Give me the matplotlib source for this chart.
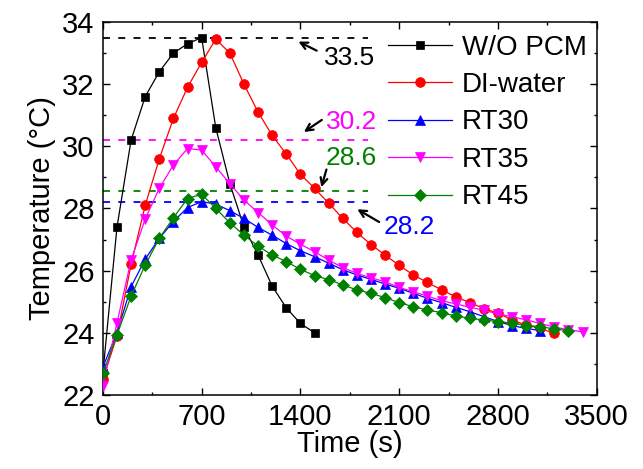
import matplotlib

matplotlib.use("Agg")
import matplotlib.pyplot as plt
from matplotlib.ticker import MultipleLocator

plt.rcParams["font.family"] = ["Liberation Sans", "DejaVu Sans"]
plt.rcParams["lines.scale_dashes"] = False

# 시간(s)과 온도(°C) 데이터
t_wo = [0, 100, 200, 300, 400, 500, 600, 700, 800, 900, 1000, 1100, 1200, 1300, 1400, 1500]
T_wo = [22.7, 27.4, 30.2, 31.6, 32.4, 33.0, 33.3, 33.5, 30.6, 28.8, 27.4, 26.5, 25.5, 24.8, 24.3, 24.0]

t_di = list(range(0, 3201, 100))
T_di = [22.5, 23.9, 26.2, 28.1, 29.6, 30.9, 31.9, 32.7, 33.45, 33.0, 32.0, 31.1, 30.35, 29.75,
        29.1, 28.65, 28.17, 27.68, 27.23, 26.84, 26.5, 26.17, 25.86, 25.62, 25.38, 25.16,
        24.97, 24.78, 24.63, 24.41, 24.25, 24.14, 23.98]

t_rt30 = list(range(0, 3101, 100))
T_rt30 = [22.9, 24.0, 25.48, 26.37, 27.04, 27.58, 28.03, 28.22, 28.14, 27.93, 27.68, 27.39,
          27.14, 26.87, 26.64, 26.45, 26.24, 26.03, 25.86, 25.72, 25.57, 25.43, 25.27, 25.11,
          24.97, 24.82, 24.68, 24.52, 24.36, 24.23, 24.14, 24.07]

t_rt35 = list(range(0, 3401, 100))
T_rt35 = [22.3, 24.32, 26.34, 27.66, 28.65, 29.4, 29.93, 29.88, 29.34, 28.8, 28.27, 27.87,
          27.47, 27.11, 26.85, 26.61, 26.34, 26.1, 25.91, 25.77, 25.64, 25.46, 25.32, 25.18,
          25.03, 24.93, 24.82, 24.73, 24.6, 24.52, 24.41, 24.3, 24.18, 24.1, 24.03]

t_rt45 = list(range(0, 3301, 100))
T_rt45 = [22.7, 23.93, 25.18, 26.18, 27.04, 27.7, 28.32, 28.46, 28.0, 27.54, 27.14, 26.79,
          26.5, 26.29, 26.04, 25.84, 25.71, 25.54, 25.38, 25.27, 25.13, 24.97, 24.84, 24.73,
          24.65, 24.54, 24.47, 24.41, 24.36, 24.31, 24.23, 24.2, 24.12, 24.07]

# 최고 온도 기준선
peak_levels = [33.5, 30.2, 28.55, 28.2]
peak_labels = ["33.5", "30.2", "28.6", "28.2"]
peak_colors = ["black", "#FF00FF", "#008000", "#0000FF"]
# (화살표 끝, 화살표 시작, 글자 위치)
peak_arrows = [
    ((1368, 33.41), (1533, 33.04), (1750, 32.84)),
    ((1408, 30.41), (1568, 30.90), (1762, 30.79)),
    ((1543, 28.60), (1590, 29.34), (1762, 29.61)),
    ((1786, 28.02), (1975, 27.52), (2170, 27.41)),
]
line_end = 1880

fig = plt.figure(figsize=(6.43, 4.69), dpi=100)
ax = fig.add_axes([0.160, 0.158, 0.768, 0.795])

series = [
    (t_wo, T_wo, "black", "s", 5.8, "W/O PCM"),
    (t_di, T_di, "#FF0000", "o", 7.0, "DI-water"),
    (t_rt30, T_rt30, "#0000FF", "^", 7.5, "RT30"),
    (t_rt35, T_rt35, "#FF00FF", "v", 7.5, "RT35"),
    (t_rt45, T_rt45, "#008000", "D", 5.8, "RT45"),
]
for t, T, c, m, ms, lab in series:
    ax.plot(t, T, color=c, marker=m, markersize=ms, linewidth=0.9,
            markeredgewidth=0.5, label=lab, zorder=3)

for lvl, c in zip(peak_levels, peak_colors):
    ax.plot([0, line_end], [lvl, lvl], color=c, linewidth=1.3,
            linestyle=(0, (5, 6)), zorder=2)

for (head, tail, txt), lab, c in zip(peak_arrows, peak_labels, peak_colors):
    ax.annotate("", xy=head, xytext=tail,
                arrowprops=dict(arrowstyle="->,head_length=0.5,head_width=0.25",
                                color="black", lw=1.6))
    ax.text(txt[0], txt[1], lab, color=c, fontsize=19, ha="center", va="center")

ax.set_xlim(0, 3500)
ax.set_ylim(22, 34)
ax.xaxis.set_major_locator(MultipleLocator(700))
ax.xaxis.set_minor_locator(MultipleLocator(350))
ax.yaxis.set_major_locator(MultipleLocator(2))
ax.yaxis.set_minor_locator(MultipleLocator(1))
ax.tick_params(which="both", direction="in", top=True, right=True, width=1.0)
ax.tick_params(which="major", length=5, labelsize=21, pad=6)
ax.tick_params(which="minor", length=2.5)
for sp in ax.spines.values():
    sp.set_linewidth(1.1)

ax.set_xlabel("Time (s)", fontsize=21, labelpad=-1)
ax.set_ylabel("Temperature (°C)", fontsize=21, labelpad=4)

ax.legend(loc="upper left", bbox_to_anchor=(0.567, 0.981), frameon=False, fontsize=20,
          numpoints=1, handlelength=2.3, handletextpad=0.35, labelspacing=0.41,
          borderpad=0.2, borderaxespad=0)

fig.savefig("out.png", dpi=100)
